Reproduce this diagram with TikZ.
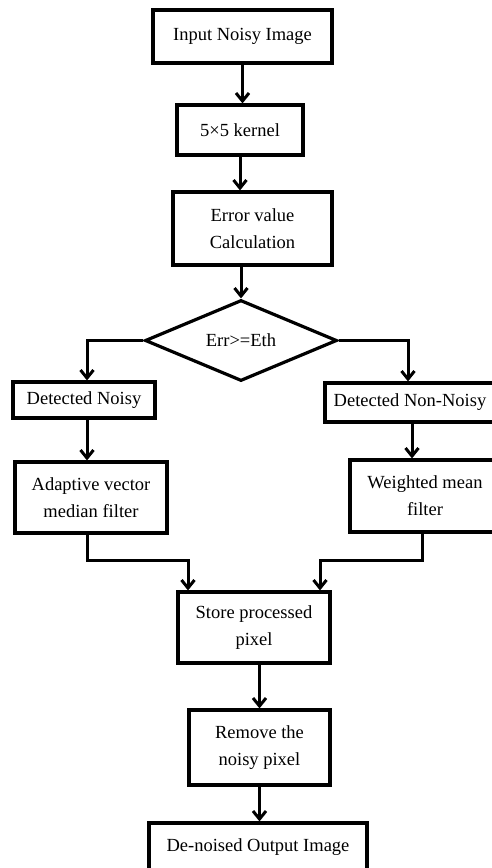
\documentclass[tikz,border=0pt]{standalone}
\usepackage{fontspec}
\setmainfont{Liberation Serif}
\usetikzlibrary{arrows.meta,shapes.geometric,calc}
\begin{document}
\begin{tikzpicture}[x=1pt,y=-1pt,
  box/.style={draw,line width=3.2pt,minimum height=#1,inner sep=0pt,align=center,
    font=\fontsize{18.5}{27}\selectfont},
  box/.default=50pt,
  arr/.style={line width=3pt,-{Straight Barb[length=8pt,width=13pt]}},
  ln/.style={line width=3pt}]
\useasboundingbox (0,0) rectangle (492,868);
\node[box=53pt,minimum width=179pt] (b1) at (242.5,36.5) {Input Noisy Image};
\node[box=50pt,minimum width=126pt] (b2) at (240,130) {5×5 kernel};
\node[box=73pt,minimum width=159pt] (b3) at (252.5,228.5) {Error value\\Calculation};
\node[draw,line width=3.2pt,diamond,aspect=2.4,minimum width=192pt,minimum height=81pt,inner sep=0pt,
  font=\fontsize{18.5}{27}\selectfont] (d) at (241,340.5) {Err>=Eth};
\node[box=36pt,minimum width=142pt] (dn) at (84,400) {Detected Noisy};
\node[box=71pt,minimum width=152pt] (av) at (91,497.5) {Adaptive vector\\median filter};
\node[box=39pt,minimum width=170pt] (dnn) at (410,402.5) {Detected Non-Noisy};
\node[box=72pt,minimum width=150pt] (wm) at (425,496) {Weighted mean\\filter};
\node[box=71pt,minimum width=152pt] (st) at (254,627.5) {Store processed\\pixel};
\node[box=75pt,minimum width=141pt] (rm) at (259.5,747.5) {Remove the\\noisy pixel};
\node[box=48pt,minimum width=218pt] (fo) at (258,847) {De-noised Output Image};
\coordinate (lx) at (87,0);
\coordinate (rx) at (408,0);
\coordinate (rx2) at (412,0);
\coordinate (rx3) at (422,0);
\coordinate (jy) at (0,560);
\coordinate (sl) at (188,0);
\coordinate (sr) at (320,0);
\draw[arr] (b1.south) -- (b1.south |- b2.north);
\draw[arr] (b2.south) -- (b2.south |- b3.north);
\draw[arr] (d.north |- b3.south) -- (d.north);
\draw[arr] (d.west) -| (lx |- dn.north);
\draw[arr] (lx |- dn.south) -- (lx |- av.north);
\draw[arr] (d.east) -| (rx |- dnn.north);
\draw[arr] (rx2 |- dnn.south) -- (rx2 |- wm.north);
\draw[arr] (lx |- av.south) -- (lx |- jy) -| (sl |- st.north);
\draw[arr] (rx3 |- wm.south) -- (rx3 |- jy) -| (sr |- st.north);
\draw[arr] (rm.north |- st.south) -- (rm.north);
\draw[arr] (rm.south) -- (rm.south |- fo.north);
\end{tikzpicture}
\end{document}
